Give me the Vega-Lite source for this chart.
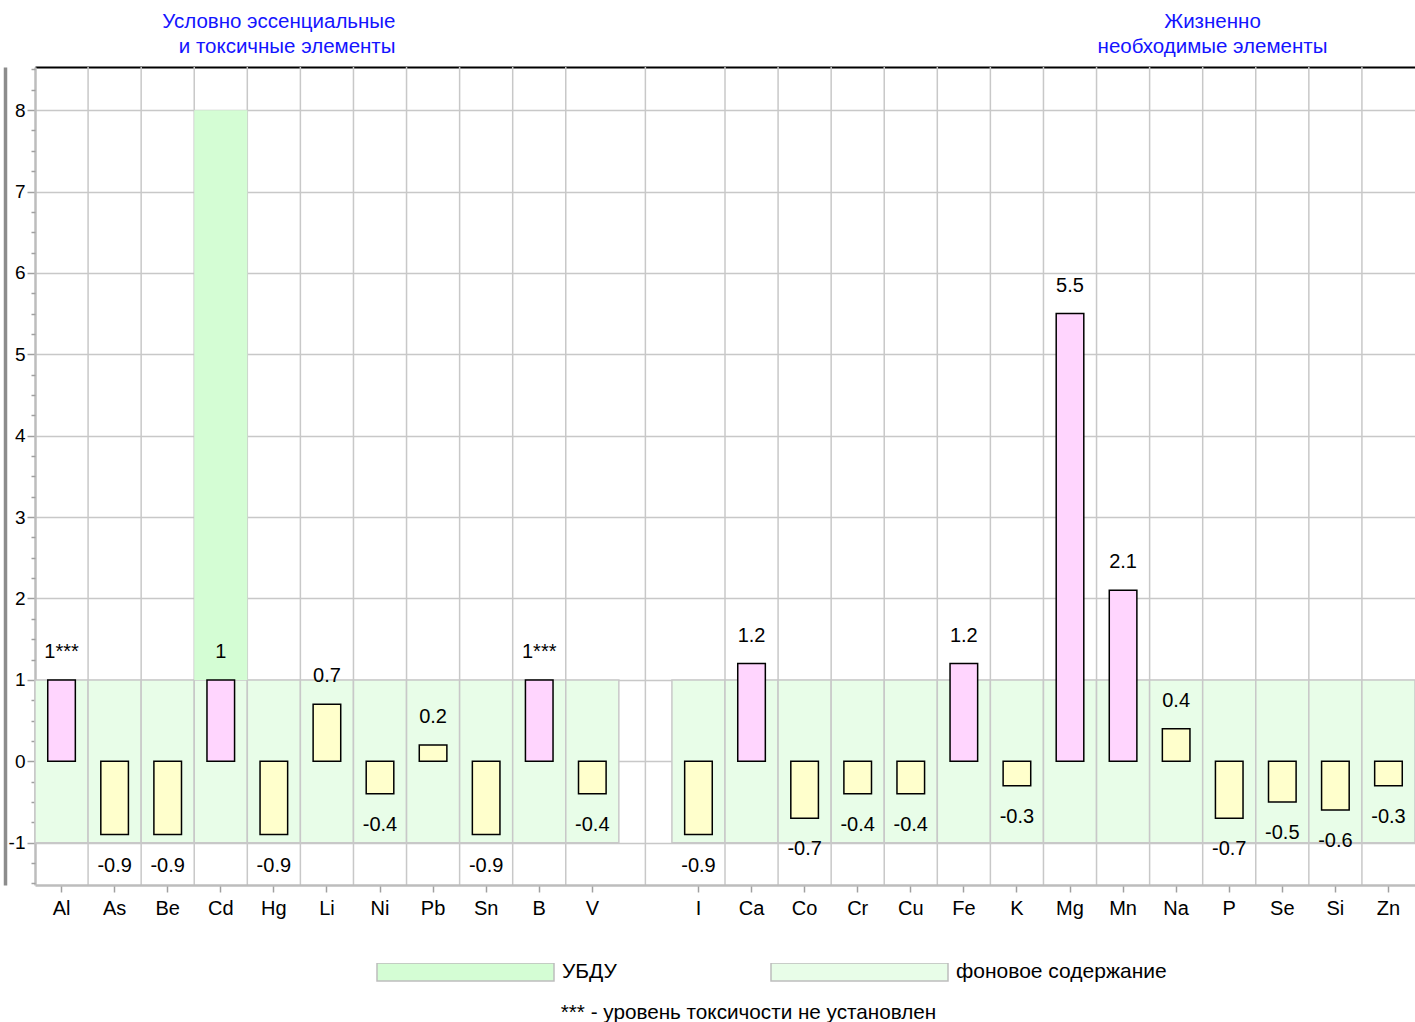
{
  "$schema": "https://vega.github.io/schema/vega-lite/v6.json",
  "width": 1380,
  "height": 818,
  "autosize": {"type": "none"},
  "padding": {"left": 35, "top": 67, "right": 0, "bottom": 137},
  "background": "white",
  "config": {
    "view": {"stroke": null},
    "font": "Liberation Sans",
    "text": {"font": "Liberation Sans"}
  },
  "datasets": {
    "elements": [
      {"e": "Al", "v": 1, "label": "1***"},
      {"e": "As", "v": -0.9, "label": "-0.9"},
      {"e": "Be", "v": -0.9, "label": "-0.9"},
      {"e": "Cd", "v": 1, "label": "1"},
      {"e": "Hg", "v": -0.9, "label": "-0.9"},
      {"e": "Li", "v": 0.7, "label": "0.7"},
      {"e": "Ni", "v": -0.4, "label": "-0.4"},
      {"e": "Pb", "v": 0.2, "label": "0.2"},
      {"e": "Sn", "v": -0.9, "label": "-0.9"},
      {"e": "B", "v": 1, "label": "1***"},
      {"e": "V", "v": -0.4, "label": "-0.4"},
      {"e": "I", "v": -0.9, "label": "-0.9"},
      {"e": "Ca", "v": 1.2, "label": "1.2"},
      {"e": "Co", "v": -0.7, "label": "-0.7"},
      {"e": "Cr", "v": -0.4, "label": "-0.4"},
      {"e": "Cu", "v": -0.4, "label": "-0.4"},
      {"e": "Fe", "v": 1.2, "label": "1.2"},
      {"e": "K", "v": -0.3, "label": "-0.3"},
      {"e": "Mg", "v": 5.5, "label": "5.5"},
      {"e": "Mn", "v": 2.1, "label": "2.1"},
      {"e": "Na", "v": 0.4, "label": "0.4"},
      {"e": "P", "v": -0.7, "label": "-0.7"},
      {"e": "Se", "v": -0.5, "label": "-0.5"},
      {"e": "Si", "v": -0.6, "label": "-0.6"},
      {"e": "Zn", "v": -0.3, "label": "-0.3"}
    ],
    "gridlines": [
      {"e": "As"}, {"e": "Be"}, {"e": "Cd"}, {"e": "Hg"}, {"e": "Li"}, {"e": "Ni"},
      {"e": "Pb"}, {"e": "Sn"}, {"e": "B"}, {"e": "V"}, {"e": "Ca"}, {"e": "Co"},
      {"e": "Cr"}, {"e": "Cu"}, {"e": "Fe"}, {"e": "K"}, {"e": "Mg"}, {"e": "Mn"},
      {"e": "Na"}, {"e": "P"}, {"e": "Se"}, {"e": "Si"}, {"e": "Zn"}
    ],
    "gap": [{"e": " "}]
  },
  "layer": [
    {
      "data": {"name": "gridlines"},
      "mark": {"type": "rule", "stroke": "#c8c8c8", "strokeWidth": 1.5},
      "encoding": {
        "x": {
          "field": "e", "type": "nominal", "bandPosition": 0,
          "scale": {
            "domain": ["Al", "As", "Be", "Cd", "Hg", "Li", "Ni", "Pb", "Sn", "B", "V", " ", "I", "Ca", "Co", "Cr", "Cu", "Fe", "K", "Mg", "Mn", "Na", "P", "Se", "Si", "Zn"],
            "paddingInner": 0, "paddingOuter": 0
          },
          "axis": {
            "orient": "top",
            "domain": true, "domainColor": "#000000", "domainWidth": 2,
            "ticks": false, "labels": false, "grid": false,
            "title": ["Жизненно", "необходимые элементы"],
            "titleColor": "#1414ff",
            "titleFont": "Liberation Sans",
            "titleFontSize": 20.5,
            "titleFontWeight": "normal",
            "titleAlign": "center",
            "titleBaseline": "alphabetic",
            "titleAngle": 0,
            "titleLineHeight": 25,
            "titleX": 1177,
            "titleY": -40
          }
        }
      }
    },
    {
      "data": {"name": "gap"},
      "mark": {"type": "rule", "stroke": "#c8c8c8", "strokeWidth": 1.5},
      "encoding": {
        "x": {"field": "e", "type": "nominal", "bandPosition": 0.5, "axis": null}
      }
    },
    {
      "data": {"name": "elements"},
      "mark": {"type": "rect", "stroke": "#c8c8c8", "strokeWidth": 1.5},
      "encoding": {
        "x": {
          "field": "e", "type": "nominal",
          "axis": {
            "orient": "bottom",
            "domain": true, "domainColor": "#bdbdbd", "domainWidth": 2.5,
            "ticks": true, "tickColor": "#a0a0a0", "tickSize": 7, "tickWidth": 1.5,
            "tickOpacity": {"condition": {"test": "datum.value === ' '", "value": 0}, "value": 1},
            "grid": false,
            "labelAngle": 0,
            "labelFont": "Liberation Sans",
            "labelFontSize": 20,
            "labelColor": "#000000",
            "labelPadding": 6,
            "labelBaseline": "top",
            "labelOverlap": false,
            "title": "*** - уровень токсичости не установлен",
            "titleFont": "Liberation Sans",
            "titleFontSize": 20.7,
            "titleFontWeight": "normal",
            "titleColor": "#000000",
            "titleAlign": "center",
            "titleBaseline": "alphabetic",
            "titleX": 713,
            "titleY": 133
          }
        },
        "y": {
          "datum": -1, "type": "quantitative",
          "scale": {"domain": [-1.52, 8.53], "nice": false, "zero": false},
          "axis": {
            "orient": "left",
            "values": [-1, 0, 1, 2, 3, 4, 5, 6, 7, 8],
            "labelExpr": "'' + datum.value",
            "labelOverlap": false,
            "labelFont": "Liberation Sans",
            "labelFontSize": 19,
            "labelColor": "#000000",
            "labelPadding": 2,
            "domain": true, "domainColor": "#bdbdbd", "domainWidth": 2.5,
            "ticks": true, "tickColor": "#a0a0a0", "tickSize": 8, "tickWidth": 1.5,
            "grid": true, "gridColor": "#c8c8c8", "gridWidth": 1.5,
            "title": ["Условно эссенциальные", "и токсичные элементы"],
            "titleColor": "#1414ff",
            "titleFont": "Liberation Sans",
            "titleFontSize": 20.5,
            "titleFontWeight": "normal",
            "titleAngle": 0,
            "titleAlign": "right",
            "titleBaseline": "alphabetic",
            "titleLineHeight": 25,
            "titleX": 360,
            "titleY": -40
          }
        },
        "y2": {"datum": 1},
        "fill": {
          "datum": "фоновое содержание",
          "type": "nominal",
          "scale": {"domain": ["УБДУ", "фоновое содержание"], "range": ["#d4fdd4", "#e8fde8"]},
          "legend": {
            "title": null,
            "orient": "none",
            "direction": "horizontal",
            "legendX": 341,
            "legendY": 896,
            "padding": 0,
            "symbolType": "M-1,-0.1017H1V0.1017H-1Z",
            "symbolSize": 31329,
            "clipHeight": 18,
            "symbolStrokeColor": "#bdbdbd",
            "symbolStrokeWidth": 1.5,
            "symbolOpacity": 1,
            "labelFont": "Liberation Sans",
            "labelFontSize": 21,
            "labelColor": "#000000",
            "labelOffset": 7,
            "labelLimit": 400,
            "columnPadding": 153
          }
        }
      }
    },
    {
      "data": {"name": "elements"},
      "transform": [{"filter": "datum.e === 'Cd'"}],
      "mark": {"type": "rect"},
      "encoding": {
        "x": {"field": "e", "type": "nominal", "axis": null},
        "y": {
          "datum": 1, "type": "quantitative",
          "axis": {
            "orient": "left",
            "values": [-1.5, -1.25, -0.75, -0.5, -0.25, 0.25, 0.5, 0.75, 1.25, 1.5, 1.75, 2.25, 2.5, 2.75, 3.25, 3.5, 3.75, 4.25, 4.5, 4.75, 5.25, 5.5, 5.75, 6.25, 6.5, 6.75, 7.25, 7.5, 7.75, 8.25, 8.5],
            "labels": false,
            "domain": false,
            "grid": false,
            "ticks": true, "tickColor": "#a0a0a0", "tickSize": 4, "tickWidth": 1.5,
            "title": null
          }
        },
        "y2": {"datum": 8},
        "fill": {"datum": "УБДУ", "type": "nominal"}
      }
    },
    {
      "data": {"name": "elements"},
      "mark": {"type": "bar", "width": {"band": 0.52}, "stroke": "#000000", "strokeWidth": 1.5},
      "encoding": {
        "x": {"field": "e", "type": "nominal", "axis": null},
        "y": {
          "field": "v", "type": "quantitative",
          "axis": {
            "orient": "left",
            "offset": 30,
            "domain": true, "domainColor": "#8c8c8c", "domainWidth": 3.5,
            "ticks": false, "labels": false, "grid": false,
            "title": null
          }
        },
        "y2": {"datum": 0},
        "fill": {"condition": {"test": "datum.v >= 1", "value": "#ffd5fe"}, "value": "#ffffcc"}
      }
    },
    {
      "data": {"name": "elements"},
      "transform": [{"filter": "datum.v > 0"}],
      "mark": {"type": "text", "font": "Liberation Sans", "fontSize": 20, "baseline": "middle", "align": "center", "dy": -28, "color": "#000000"},
      "encoding": {
        "x": {"field": "e", "type": "nominal", "axis": null},
        "y": {"field": "v", "type": "quantitative", "axis": null},
        "text": {"field": "label"}
      }
    },
    {
      "data": {"name": "elements"},
      "transform": [{"filter": "datum.v < 0"}],
      "mark": {"type": "text", "font": "Liberation Sans", "fontSize": 20, "baseline": "middle", "align": "center", "dy": 31, "color": "#000000"},
      "encoding": {
        "x": {"field": "e", "type": "nominal", "axis": null},
        "y": {"field": "v", "type": "quantitative", "axis": null},
        "text": {"field": "label"}
      }
    }
  ],
  "resolve": {"axis": {"x": "independent", "y": "independent"}}
}
